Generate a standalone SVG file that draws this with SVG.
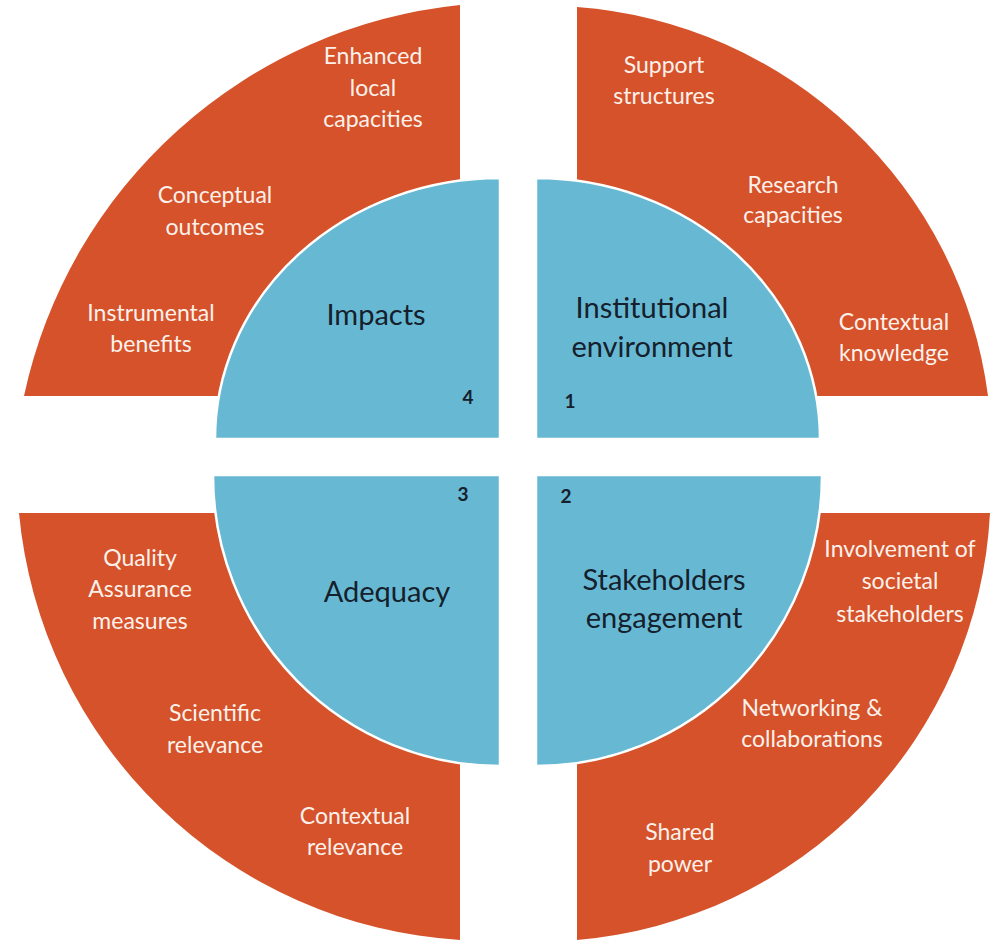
<svg xmlns="http://www.w3.org/2000/svg" width="991" height="941" viewBox="0 0 991 941">
<style>
.outer{fill:#D5522A;}
.inner{fill:#67B9D3;stroke:#FFFFFF;stroke-width:2.5;}
.ot{font-family:Lato,"Open Sans","Liberation Sans",sans-serif;font-size:23px;fill:#FCF1EA;text-anchor:middle;}
.it{font-family:Lato,"Open Sans","Liberation Sans",sans-serif;font-size:29px;fill:#15202C;text-anchor:middle;}
.num{font-family:Lato,"Open Sans","Liberation Sans",sans-serif;font-size:19px;font-weight:bold;fill:#15202C;text-anchor:middle;}
</style>
<rect width="991" height="941" fill="#FFFFFF"/>
<g id="outer-impacts">
<path class="outer" d="M460,396 H24 A498,498 0 0 1 460,5 Z"/>
<text class="ot" x="373" y="64">Enhanced</text>
<text class="ot" x="373" y="96">local</text>
<text class="ot" x="373" y="127">capacities</text>
<text class="ot" x="215" y="203">Conceptual</text>
<text class="ot" x="215" y="235">outcomes</text>
<text class="ot" x="151" y="321">Instrumental</text>
<text class="ot" x="151" y="352">benefits</text>
</g>
<g id="outer-institutional">
<path class="outer" d="M577,396 V7 A448,448 0 0 1 988,396 Z"/>
<text class="ot" x="664" y="73">Support</text>
<text class="ot" x="664" y="104">structures</text>
<text class="ot" x="793" y="193">Research</text>
<text class="ot" x="793" y="223">capacities</text>
<text class="ot" x="894" y="330">Contextual</text>
<text class="ot" x="894" y="361">knowledge</text>
</g>
<g id="outer-stakeholders">
<path class="outer" d="M577,513 H990 A452,452 0 0 1 577,940 Z"/>
<text class="ot" x="900" y="557">Involvement of</text>
<text class="ot" x="900" y="589">societal</text>
<text class="ot" x="900" y="622">stakeholders</text>
<text class="ot" x="812" y="716">Networking &amp;</text>
<text class="ot" x="812" y="747">collaborations</text>
<text class="ot" x="680" y="840">Shared</text>
<text class="ot" x="680" y="872">power</text>
</g>
<g id="outer-adequacy">
<path class="outer" d="M460,513 H19 A472,472 0 0 0 460,940 Z"/>
<text class="ot" x="140" y="566">Quality</text>
<text class="ot" x="140" y="597">Assurance</text>
<text class="ot" x="140" y="629">measures</text>
<text class="ot" x="215" y="721">Scientific</text>
<text class="ot" x="215" y="753">relevance</text>
<text class="ot" x="355" y="824">Contextual</text>
<text class="ot" x="355" y="855">relevance</text>
</g>
<g id="inner-impacts">
<path class="inner" d="M500,439 H215 A285,261 0 0 1 500,178 Z"/>
<text class="it" x="376" y="325">Impacts</text>
<text class="num" x="468" y="404">4</text>
</g>
<g id="inner-institutional">
<path class="inner" d="M536,439 V178 A284,261 0 0 1 820,439 Z"/>
<text class="it" x="652" y="318">Institutional</text>
<text class="it" x="652" y="357">environment</text>
<text class="num" x="570" y="408">1</text>
</g>
<g id="inner-stakeholders">
<path class="inner" d="M536,475 H822 A286,291 0 0 1 536,766 Z"/>
<text class="it" x="664" y="590">Stakeholders</text>
<text class="it" x="664" y="628">engagement</text>
<text class="num" x="566" y="503">2</text>
</g>
<g id="inner-adequacy">
<path class="inner" d="M500,475 V766 A287,291 0 0 1 213,475 Z"/>
<text class="it" x="387" y="602">Adequacy</text>
<text class="num" x="463" y="501">3</text>
</g>
</svg>
